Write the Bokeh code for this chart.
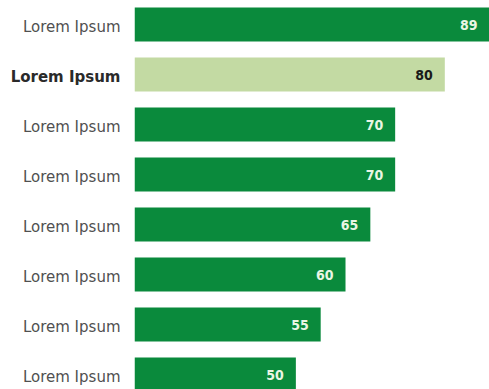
from bokeh.plotting import figure
from bokeh.models import Range1d, ColumnDataSource
from bokeh.layouts import row
from bokeh.core.properties import value
from bokeh.embed import file_html
from bokeh.resources import INLINE

categories = ["Lorem Ipsum"] * 8
values = [89, 80, 70, 70, 65, 60, 55, 50]
highlight = [False, True, False, False, False, False, False, False]
value_labels = [str(v) for v in values]

dark = "#0a8a3c"
light = "#c3daa3"

idx = list(range(len(values)))
colors = [light if h else dark for h in highlight]
txt_colors = ["#1a1a1a" if h else "#eaf6e4" for h in highlight]
cat_colors = ["#2a2a2a" if h else "#505050" for h in highlight]
cat_styles = ["bold" if h else "normal" for h in highlight]

src = ColumnDataSource(dict(y=idx, v=values, c=colors, tc=txt_colors, lab=value_labels,
                            cat=categories, cc=cat_colors, cs=cat_styles))

yr = Range1d(7.3, -0.48)
x0 = 17.5

# label column
pl = figure(width=134, height=389, output_backend="svg", toolbar_location=None,
            x_range=Range1d(0, 1), y_range=yr,
            min_border_left=0, min_border_right=0, min_border_top=0, min_border_bottom=0)
pl.axis.visible = False
pl.grid.visible = False
pl.outline_line_color = None
pl.text(x=1, y="y", text="cat", text_color="cc", text_font_style="cs", x_offset=-14,
        y_offset=2, text_align="right", text_baseline="middle",
        text_font=value("DejaVu Sans"), text_font_size="15px", source=src)

p = figure(width=355, height=389, output_backend="svg", toolbar_location=None,
           x_range=Range1d(x0, 89), y_range=yr,
           min_border_left=0, min_border_right=0, min_border_top=0, min_border_bottom=0)
p.axis.visible = False
p.grid.visible = False
p.outline_line_color = None
p.background_fill_color = "white"

p.hbar(y="y", left=x0, right="v", height=0.68, fill_color="c", line_color=None, source=src)
p.text(x="v", y="y", text="lab", text_color="tc", x_offset=-12, text_align="right",
       text_baseline="middle", text_font=value("DejaVu Sans Condensed"), text_font_size="14px",
       text_font_style="bold", source=src)

layout = row(pl, p, spacing=0)
open("out.html", "w").write(file_html(layout, INLINE))
